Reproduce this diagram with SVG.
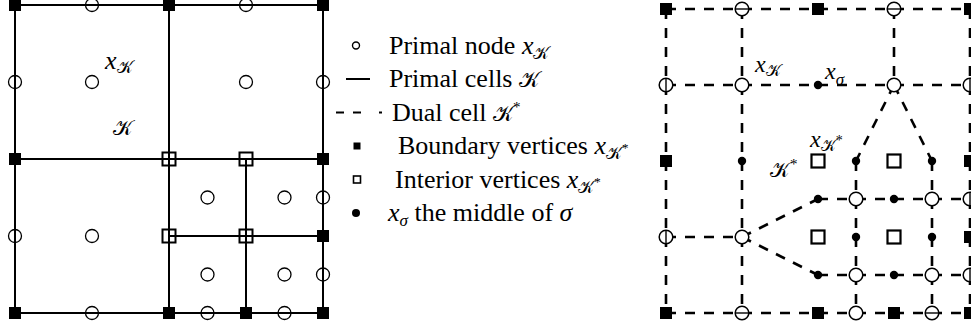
<svg xmlns="http://www.w3.org/2000/svg" width="971" height="326" viewBox="0 0 971 326">
<style>
.solid{stroke:#000;stroke-width:2;fill:none}
.dash{stroke:#000;stroke-width:2.6;fill:none;stroke-dasharray:10 9}
.thin{stroke:#000;stroke-width:1.4;fill:none}
.txt{font-family:"Liberation Serif","Times New Roman",serif;font-size:26px;fill:#000}
.it{font-style:italic}
.cal{font-family:"DejaVu Serif","DejaVu Sans","Noto Sans",serif;font-style:normal}
</style>
<defs>
<circle id="cL" r="6.5" fill="none" stroke="#000" stroke-width="1.3"/>
<circle id="cR" r="6.8" fill="#fff" stroke="#000" stroke-width="1.5"/>
<rect id="sF" x="-6" y="-6" width="12" height="12" fill="#000"/>
<rect id="sO" x="-6.5" y="-6.5" width="13" height="13" fill="none" stroke="#000" stroke-width="2"/>
<rect id="sOR" x="-6.5" y="-6.5" width="13" height="13" fill="#fff" stroke="#000" stroke-width="2.2"/>
<circle id="dt" r="4.2" fill="#000"/>
</defs>
<rect width="971" height="326" fill="#fff"/>

<!-- Left figure: primal mesh -->
<g id="left-connectors" class="solid">
<rect x="15" y="5" width="308" height="308"/>
<line x1="169" y1="5" x2="169" y2="313"/>
<line x1="15" y1="159" x2="323" y2="159"/>
<line x1="246" y1="159" x2="246" y2="313"/>
<line x1="169" y1="236" x2="323" y2="236"/>
</g>
<g id="left-nodes">
<g id="L-c1"><use href="#cL" x="92" y="82"/></g>
<g id="L-c2"><use href="#cL" x="246" y="82"/></g>
<g id="L-c3"><use href="#cL" x="92" y="236"/></g>
<g id="L-c4"><use href="#cL" x="207.5" y="197.5"/></g>
<g id="L-c5"><use href="#cL" x="284.5" y="197.5"/></g>
<g id="L-c6"><use href="#cL" x="207.5" y="274.5"/></g>
<g id="L-c7"><use href="#cL" x="284.5" y="274.5"/></g>
<g id="L-b1"><use href="#cL" x="92" y="5"/></g>
<g id="L-b2"><use href="#cL" x="246" y="5"/></g>
<g id="L-b3"><use href="#cL" x="15" y="82"/></g>
<g id="L-b4"><use href="#cL" x="15" y="236"/></g>
<g id="L-b5"><use href="#cL" x="323" y="82"/></g>
<g id="L-b6"><use href="#cL" x="323" y="197.5"/></g>
<g id="L-b7"><use href="#cL" x="323" y="274.5"/></g>
<g id="L-b8"><use href="#cL" x="92" y="313"/></g>
<g id="L-b9"><use href="#cL" x="207.5" y="313"/></g>
<g id="L-b10"><use href="#cL" x="284.5" y="313"/></g>
<g id="L-s1"><use href="#sF" x="15" y="5"/></g>
<g id="L-s2"><use href="#sF" x="169" y="5"/></g>
<g id="L-s3"><use href="#sF" x="323" y="5"/></g>
<g id="L-s4"><use href="#sF" x="15" y="159"/></g>
<g id="L-s5"><use href="#sF" x="323" y="159"/></g>
<g id="L-s6"><use href="#sF" x="15" y="313"/></g>
<g id="L-s7"><use href="#sF" x="169" y="313"/></g>
<g id="L-s8"><use href="#sF" x="246" y="313"/></g>
<g id="L-s9"><use href="#sF" x="323" y="313"/></g>
<g id="L-s10"><use href="#sF" x="323" y="236"/></g>
<g id="L-o1"><use href="#sO" x="169" y="159"/></g>
<g id="L-o2"><use href="#sO" x="246" y="159"/></g>
<g id="L-o3"><use href="#sO" x="169" y="236"/></g>
<g id="L-o4"><use href="#sO" x="246" y="236"/></g>
</g>
<g id="left-labels" class="txt">
<text x="105" y="69"><tspan class="it">x</tspan><tspan class="cal" font-size="17" dy="4">𝒦</tspan></text>
<text x="113" y="135" class="cal" font-size="21">𝒦</text>
</g>

<!-- Legend -->
<g id="legend">
<g id="leg-node"><circle cx="356" cy="45.5" r="3.5" class="thin"/>
<text x="389" y="53.5" class="txt">Primal node <tspan class="it">x</tspan><tspan class="cal" font-size="17" dy="5">𝒦</tspan></text></g>
<g id="leg-cells"><line x1="346" y1="79" x2="370" y2="79" class="solid"/>
<text x="389" y="87" class="txt">Primal cells <tspan class="cal" font-size="22">𝒦</tspan></text></g>
<g id="leg-dual"><path d="M336 112.5H344M353 112.5H361M379 112.5H382" class="solid"/>
<text x="392" y="120.5" class="txt">Dual cell <tspan class="cal" font-size="22">𝒦</tspan><tspan font-size="15" dy="-9">*</tspan></text></g>
<g id="leg-bnd"><rect x="353.5" y="142.5" width="7" height="7" fill="#000"/>
<text x="398" y="154" class="txt">Boundary vertices <tspan class="it">x</tspan><tspan class="cal" font-size="17" dy="5">𝒦</tspan><tspan font-size="13" dy="-7">*</tspan></text></g>
<g id="leg-int"><rect x="353.5" y="176" width="7" height="7" fill="none" stroke="#000" stroke-width="1.6"/>
<text x="395" y="187.5" class="txt">Interior vertices <tspan class="it">x</tspan><tspan class="cal" font-size="17" dy="5">𝒦</tspan><tspan font-size="13" dy="-7">*</tspan></text></g>
<g id="leg-mid"><circle cx="356" cy="213" r="4" fill="#000"/>
<text x="388" y="221" class="txt"><tspan class="it">x</tspan><tspan class="it" font-size="17" dy="5">σ</tspan><tspan dy="-5"> the middle of </tspan><tspan class="it">σ</tspan></text></g>
</g>

<!-- Right figure: dual mesh -->
<g id="right-connectors" class="dash">
<path d="M666 9H970"/>
<path d="M666 313H970"/>
<path d="M666 9V313"/>
<path d="M970 9V313"/>
<path d="M742 9V313"/>
<path d="M666 85H970"/>
<path d="M894 9V85"/>
<path d="M894 85L856 161"/>
<path d="M894 85L932 161"/>
<path d="M856 161V313"/>
<path d="M932 161V313"/>
<path d="M818 199H970"/>
<path d="M818 275H970"/>
<path d="M742 237L818 199"/>
<path d="M742 237L818 275"/>
<path d="M666 237H742"/>
</g>
<g id="right-nodes">
<g id="R-c1"><use href="#cR" x="742" y="85"/></g>
<g id="R-c2"><use href="#cR" x="894" y="85"/></g>
<g id="R-c3"><use href="#cR" x="742" y="237"/></g>
<g id="R-c4"><use href="#cR" x="856" y="199"/></g>
<g id="R-c5"><use href="#cR" x="932" y="199"/></g>
<g id="R-c6"><use href="#cR" x="856" y="275"/></g>
<g id="R-c7"><use href="#cR" x="932" y="275"/></g>
<g id="R-b1"><use href="#cR" x="742" y="9"/><path d="M735.5 9H748.5" class="thin"/></g>
<g id="R-b2"><use href="#cR" x="894" y="9"/><path d="M887.5 9H900.5" class="thin"/></g>
<g id="R-b3"><use href="#cR" x="666" y="85"/><path d="M666 78.5V91.5" class="thin"/></g>
<g id="R-b4"><use href="#cR" x="666" y="237"/><path d="M666 230.5V243.5" class="thin"/></g>
<g id="R-b5"><use href="#cR" x="970" y="85"/><path d="M970 78.5V91.5" class="thin"/></g>
<g id="R-b6"><use href="#cR" x="970" y="199"/><path d="M970 192.5V205.5" class="thin"/></g>
<g id="R-b7"><use href="#cR" x="970" y="275"/><path d="M970 268.5V281.5" class="thin"/></g>
<g id="R-b8"><use href="#cR" x="742" y="313"/><path d="M735.5 313H748.5" class="thin"/></g>
<g id="R-b9"><use href="#cR" x="856" y="313"/></g>
<g id="R-b10"><use href="#cR" x="932" y="313"/><path d="M925.5 313H938.5" class="thin"/></g>
<g id="R-d1"><use href="#dt" x="818" y="85"/></g>
<g id="R-d2"><use href="#dt" x="742" y="161"/></g>
<g id="R-d3"><use href="#dt" x="856" y="161"/></g>
<g id="R-d4"><use href="#dt" x="932" y="161"/></g>
<g id="R-d5"><use href="#dt" x="818" y="199"/></g>
<g id="R-d6"><use href="#dt" x="894" y="199"/></g>
<g id="R-d7"><use href="#dt" x="856" y="237"/></g>
<g id="R-d8"><use href="#dt" x="932" y="237"/></g>
<g id="R-d9"><use href="#dt" x="818" y="275"/></g>
<g id="R-d10"><use href="#dt" x="894" y="275"/></g>
<g id="R-s1"><use href="#sF" x="666" y="9"/></g>
<g id="R-s2"><use href="#sF" x="818" y="9"/></g>
<g id="R-s3"><use href="#sF" x="970" y="9"/></g>
<g id="R-s4"><use href="#sF" x="666" y="161"/></g>
<g id="R-s5"><use href="#sF" x="970" y="161"/></g>
<g id="R-s6"><use href="#sF" x="666" y="313"/></g>
<g id="R-s7"><use href="#sF" x="818" y="313"/></g>
<g id="R-s8"><use href="#sF" x="894" y="313"/></g>
<g id="R-s9"><use href="#sF" x="970" y="313"/></g>
<g id="R-s10"><use href="#sF" x="970" y="237"/></g>
<g id="R-o1"><use href="#sOR" x="818" y="161"/></g>
<g id="R-o2"><use href="#sOR" x="894" y="161"/></g>
<g id="R-o3"><use href="#sOR" x="818" y="237"/></g>
<g id="R-o4"><use href="#sOR" x="894" y="237"/></g>
</g>
<g id="right-labels" class="txt">
<text x="755" y="72" font-size="24"><tspan class="it">x</tspan><tspan class="cal" font-size="16" dy="4">𝒦</tspan></text>
<text x="825" y="79" font-size="24"><tspan class="it">x</tspan><tspan class="it" font-size="17" dy="6">σ</tspan></text>
<text x="810" y="147" font-size="24"><tspan class="it">x</tspan><tspan class="cal" font-size="16" dy="4">𝒦</tspan><tspan font-size="14" dy="-6">*</tspan></text>
<text x="770" y="177" font-size="21"><tspan class="cal">𝒦</tspan><tspan font-size="15" dy="-8">*</tspan></text>
</g>
</svg>
